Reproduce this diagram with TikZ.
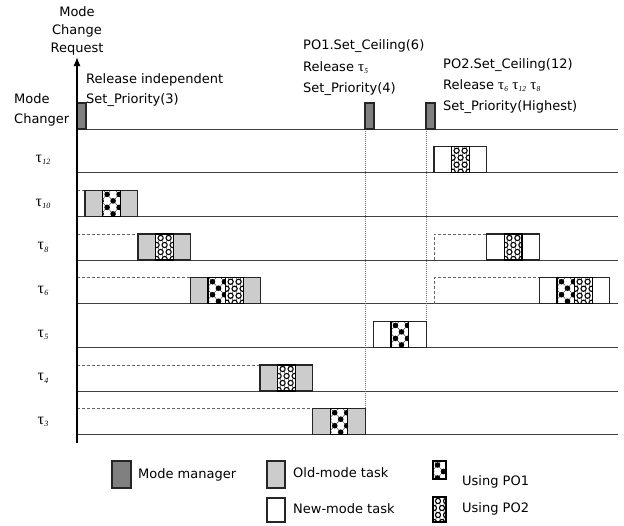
\documentclass[tikz,border=0pt]{standalone}
\usepackage{fontspec}
\setmainfont{DejaVu Sans}
\newfontfamily\taufont{Liberation Serif}
\usetikzlibrary{arrows.meta}
\newcommand{\tlab}[1]{{\taufont\fontsize{16}{16}\selectfont τ\kern0.3pt\raisebox{-0.35ex}{\fontsize{8}{8}\selectfont\itshape #1}}}
\newcommand{\tin}[1]{{\taufont\fontsize{15}{15}\selectfont τ\kern0.3pt\raisebox{-0.35ex}{\fontsize{7.5}{7.5}\selectfont\itshape #1}}}
\tikzset{
  boxline/.style={draw=black!85, line width=1.1pt},
  patline/.style={draw=black, line width=1.3pt},
  mmbox/.style={boxline, fill=black!50},
  oldbox/.style={boxline, fill=black!20},
  newbox/.style={boxline, fill=white},
  rowline/.style={draw=black!75, line width=0.8pt},
  dashline/.style={draw=black!60, line width=0.7pt, dash pattern=on 3pt off 2pt},
  dotline/.style={draw=black!55, line width=0.7pt, dash pattern=on 1pt off 1pt},
  hatch/.style={draw=black, line width=0.3pt},
  txt/.style={inner sep=0pt, font=\fontsize{13}{20}\selectfont},
}
% segments: #1 = left x, #2 = top y
\newcommand{\oseg}[2]{\path[oldbox] (#1,#2) rectangle ({#1+17.6},{#2+26});}
\newcommand{\nseg}[2]{\path[newbox] (#1,#2) rectangle ({#1+17.6},{#2+26});}
% pattern boxes: #1 x, #2 y, #3 w, #4 h
\newcommand{\pdots}[4]{%
  \begin{scope}
    \clip (#1,#2) rectangle ({#1+#3},{#2+#4});
    \fill[white] (#1,#2) rectangle ({#1+#3},{#2+#4});
    \foreach \k in {-24,-12,0,12,24}{
      \draw[hatch] ({#1+0.81+\k},#2) -- ++(30,32.5);
      \draw[hatch] ({#1+8.19+\k},#2) -- ++(-30,32.5);
    }
    \foreach \dx/\dy in {4.5/4, 16.5/4, -1.5/10.5, 10.5/10.5, 4.5/17, 16.5/17, -1.5/23.5, 10.5/23.5, 4.5/30, 16.5/30}
      \fill[black] ({#1+\dx},{#2+\dy}) circle (2.8pt);
  \end{scope}
  \draw[patline] (#1,#2) rectangle ({#1+#3},{#2+#4});}
\newcommand{\prings}[4]{%
  \begin{scope}
    \clip (#1,#2) rectangle ({#1+#3},{#2+#4});
    \fill[white] (#1,#2) rectangle ({#1+#3},{#2+#4});
    \foreach \k in {-24,-16,-8,0,8,16,24}{
      \draw[hatch] ({#1+2.71+\k},#2) -- ++(20,35);
      \draw[hatch] ({#1+7.29+\k},#2) -- ++(-20,35);
    }
    \foreach \dx/\dy in {5/4, 13/4, 1/11, 9/11, 17/11, 5/18, 13/18, 1/25, 9/25, 17/25}
      \filldraw[draw=black, fill=white, line width=1.1pt] ({#1+\dx},{#2+\dy}) circle (2.6pt);
  \end{scope}
  \draw[patline] (#1,#2) rectangle ({#1+#3},{#2+#4});}
\newcommand{\dseg}[2]{\pdots{#1}{#2}{17.6}{26}}
\newcommand{\rseg}[2]{\prings{#1}{#2}{17.6}{26}}

\begin{document}
\begin{tikzpicture}[x=1pt,y=-1pt]
\useasboundingbox[fill=white] (0,0) rectangle (624,525);

% row lines
\foreach \b in {129,172.7,216.4,260,303.7,347.4,391,434.7}
  \draw[rowline] (77,\b) -- (618,\b);

% dotted verticals
\coordinate (v1t) at (365,129);
\coordinate (v1b) at (365,408.7);
\coordinate (v2t) at (426,129);
\coordinate (v2b) at (426,321.4);
\draw[dotline] (v1t) -- (v1b);
\draw[dotline] (v2t) -- (v2b);

% dashed waiting outlines (old tasks)
\draw[dashline] (77,190.4) -- (85,190.4);
\draw[dashline] (77,234) -- (138,234);
\draw[dashline] (77,277.7) -- (190.4,277.7);
\draw[dashline] (77,365) -- (260,365);
\draw[dashline] (77,408.7) -- (312.6,408.7);
% dashed waiting outlines (new tasks)
\draw[dashline] (434,260) -- (434,234) -- (486.8,234);
\draw[dashline] (434,303.7) -- (434,277.7) -- (539.4,277.7);

% mode changer activations
\path[mmbox] (77,103) rectangle (86,129);
\path[mmbox] (365,103) rectangle (374,129);
\path[mmbox] (426,103) rectangle (435,129);

% tau10
\oseg{85}{190.4}\oseg{120.2}{190.4}\dseg{102.6}{190.4}
% tau8 old
\oseg{138}{234}\oseg{173.2}{234}\rseg{155.6}{234}
% tau6 old
\oseg{190.4}{277.7}\oseg{243.2}{277.7}\dseg{208}{277.7}\rseg{225.6}{277.7}
% tau4
\oseg{260}{365}\oseg{295.2}{365}\rseg{277.6}{365}
% tau3
\oseg{312.6}{408.7}\oseg{347.8}{408.7}\dseg{330.2}{408.7}
% tau5 new
\nseg{373.4}{321.4}\nseg{408.6}{321.4}\dseg{391}{321.4}
% tau12 new
\nseg{434}{146.7}\nseg{469.2}{146.7}\rseg{451.6}{146.7}
% tau8 new
\nseg{486.8}{234}\nseg{522}{234}\rseg{504.4}{234}
% tau6 new
\nseg{539.4}{277.7}\nseg{592.2}{277.7}\dseg{557}{277.7}\rseg{574.6}{277.7}

% axis
\coordinate (axb) at (77,443);
\coordinate (axt) at (77,57);
\draw[black, line width=1.3pt, -{Latex[length=9pt,width=7pt]}] (axb) -- (axt);

% texts
\node[txt, align=center, font=\fontsize{13}{18}\selectfont] (mcr) at (77,31) {Mode\\Change\\Request};
\node[txt, align=left, anchor=west] (mch) at (14,110) {Mode\\Changer};
\node[txt, align=left, anchor=west] (rel) at (86,90) {Release independent\\Set\_Priority(3)};
\node[txt, align=left, anchor=west, font=\fontsize{13}{21.5}\selectfont] (po1) at (303,68) {PO1.Set\_Ceiling(6)\\Release \tin{5}\\Set\_Priority(4)};
\node[txt, align=left, anchor=west, font=\fontsize{13}{21}\selectfont] (po2) at (443,86) {PO2.Set\_Ceiling(12)\\Release \tin{6} \tin{12} \tin{8}\\Set\_Priority(Highest)};

% task labels
\node[inner sep=0pt] (l12) at (43,160) {\tlab{12}};
\node[inner sep=0pt] (l10) at (43,204) {\tlab{10}};
\node[inner sep=0pt] (l8) at (43,247.5) {\tlab{8}};
\node[inner sep=0pt] (l6) at (43,291) {\tlab{6}};
\node[inner sep=0pt] (l5) at (43,335) {\tlab{5}};
\node[inner sep=0pt] (l4) at (43,378.5) {\tlab{4}};
\node[inner sep=0pt] (l3) at (43,422) {\tlab{3}};

% legend
\path[mmbox] (112,461) rectangle (131,488);
\node[txt, anchor=west] (lg1) at (138,475) {Mode manager};
\path[oldbox] (267,461) rectangle (285,488);
\node[txt, anchor=west] (lg2) at (293,473) {Old-mode task};
\path[newbox] (267,498) rectangle (285,522);
\node[txt, anchor=west] (lg3) at (293,509) {New-mode task};
\pdots{433}{461}{13}{18}
\node[txt, anchor=west] (lg4) at (462,482) {Using PO1};
\prings{433}{497}{13}{25}
\node[txt, anchor=west] (lg5) at (462,509) {Using PO2};
\end{tikzpicture}
\end{document}
